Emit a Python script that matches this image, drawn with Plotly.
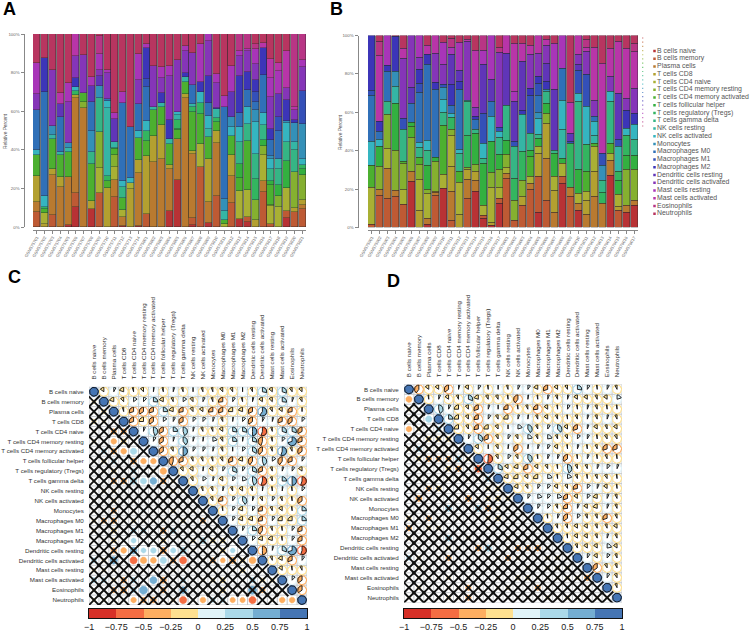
import math
import plotly.graph_objects as go

W, H = 750, 632
CELLS = ["B cells naive","B cells memory","Plasma cells","T cells CD8","T cells CD4 naive",
 "T cells CD4 memory resting","T cells CD4 memory activated","T cells follicular helper",
 "T cells regulatory (Tregs)","T cells gamma delta","NK cells resting","NK cells activated",
 "Monocytes","Macrophages M0","Macrophages M1","Macrophages M2","Dendritic cells resting",
 "Dendritic cells activated","Mast cells resting","Mast cells activated","Eosinophils","Neutrophils"]
PALETTE = ["#B83235","#BE5A34","#B97A30","#B3A030","#A9B034","#85B030","#4CB030","#33B040","#33B560",
 "#35B585","#35B5A5","#35B5C0","#3490B8","#3070B8","#3450B8","#3C35B8","#6035B8","#8535B8",
 "#A835B8","#B835A8","#B83585","#B83560"]
BINS = ["#D73027","#F46D43","#FDAE61","#FEE090","#E0F3F8","#ABD9E9","#74ADD1","#4575B4"]

# Panel A: each sample = (cell type index, cumulative top in percent)
A01=[(1,8),(2,13),(3,26.5),(6,37.5),(11,40),(13,60.5),(17,69),(18,85),(21,100)]
A02=[(3,1.5),(4,7),(6,9.5),(8,10.5),(11,16),(13,70),(15,87.5),(21,100)]
A03=[(1,6),(2,27),(3,30),(6,45.5),(10,47.5),(12,52.5),(17,81.5),(21,100)]
A04=[(2,20.5),(3,26),(6,37.5),(10,39),(13,57),(16,63.5),(19,69.5),(21,100)]
A05=[(0,1),(2,26),(6,39),(10,41),(12,43.5),(17,65),(18,74.5),(21,100)]
A06=[(0,10.5),(1,17.5),(2,67),(3,68.5),(8,70.5),(11,72.5),(15,77),(17,88.5),(19,100)]
A07=[(2,61.5),(5,65),(6,69.5),(17,89),(21,100)]
A08=[(0,9.5),(3,13.5),(6,32.5),(9,39),(12,50),(13,65),(16,73),(18,77.5),(21,100)]
A09=[(1,17.5),(4,30.5),(5,49),(9,67),(12,73),(16,78.5),(17,81.5),(18,89.5),(20,99),(21,100)]
A10=[(3,20),(6,24),(8,26.5),(10,61.5),(11,65.5),(13,66.5),(17,80),(18,81.5),(21,100)]
A11=[(1,15.5),(2,24.5),(4,31),(5,37.5),(6,40.5),(7,41),(10,44),(16,56),(18,59),(21,100)]
A12=[(0,0.5),(2,5),(4,9),(6,15),(9,20.5),(11,24),(13,64),(18,70),(21,100)]
A13=[(3,19.5),(4,23),(11,25.5),(13,52),(21,100)]
A14=[(0,0.3),(2,28),(3,34.5),(6,46),(11,49.5),(13,63.5),(17,76),(18,89.5),(21,100)]
A15=[(1,6.5),(3,37),(6,44.5),(8,49.5),(11,55),(13,72.5),(14,76.5),(15,93),(18,95),(21,100)]
A16=[(2,33.5),(3,47),(6,60.5),(10,62),(17,83.5),(21,100)]
A17=[(2,35),(3,53),(6,62),(10,64),(15,69.5),(17,77),(18,83),(21,100)]
A18=[(0,8.5),(2,30),(3,32),(6,43),(10,45.5),(15,55.5),(17,78.5),(18,83.5),(21,100)]
A19=[(0,24.5),(2,45.5),(6,50.5),(7,51),(8,55.5),(10,58),(11,59.5),(17,86.5),(21,100)]
A20=[(2,67),(3,69),(6,75),(10,77.5),(15,80),(17,91),(18,94),(21,100)]
A21=[(0,1),(1,4.5),(2,38),(3,39.5),(6,59.5),(8,62),(10,63.5),(13,73.5),(17,90),(21,100)]
A22=[(1,31),(4,43),(6,58.5),(8,64),(11,70),(15,75),(18,95),(21,100)]
A23=[(0,2),(2,13),(3,35),(6,46.5),(10,51),(11,57.5),(13,64),(15,78.5),(17,96.5),(18,100)]
A24=[(1,16),(2,43.5),(3,49.5),(6,54.5),(8,56.5),(10,61),(15,61.5),(17,74.5),(18,79.5),(21,100)]
A25=[(4,1.5),(6,3.5),(10,8.5),(12,14.5),(13,62),(18,68),(21,100)]
A26=[(1,12.5),(2,26.5),(3,37.5),(6,47),(11,52),(12,57),(16,70),(18,83.5),(21,100)]
A27=[(0,4),(4,18.5),(6,25.5),(7,32.5),(9,44),(11,52),(13,59),(15,78),(17,88.5),(18,91),(20,100)]
A28=[(0,2.5),(1,5),(4,19),(6,44.5),(9,53.5),(11,62),(13,71),(15,80.5),(17,91),(18,92),(20,100)]
A29=[(3,3.8),(5,14),(8,25),(9,38),(11,54.5),(12,60.5),(13,65),(14,70),(15,76),(17,84.5),(18,92),(20,95),(21,100)]
A30=[(1,18),(2,24),(4,37.5),(5,42),(7,45),(9,53),(11,59),(13,79),(15,93),(19,95.5),(21,100)]
A31=[(1,1.7),(4,10.7),(5,11.5),(6,22),(7,23.6),(9,30),(11,35),(12,37),(13,45),(15,51),(17,67.5),(18,77),(19,87),(21,100)]
A32=[(4,10.5),(5,16),(7,22),(9,30),(10,35),(13,49.5),(14,57),(16,69),(18,81),(19,85),(21,100)]
A33=[(0,4.5),(1,8.5),(4,20),(7,34),(9,44),(11,54),(12,55),(15,66),(17,72),(19,91),(21,100)]
A34=[(1,7.6),(3,10),(5,28.5),(9,40),(10,44),(12,54),(15,55.5),(17,60.5),(19,62),(20,100)]
A35=[(1,9.3),(2,11.5),(3,14),(5,27),(7,30),(8,32),(11,35),(12,53.5),(14,70.7),(17,83),(18,86.5),(20,100)]
BARS_A=[A01,A02,A03,A04,A05,A06,A07,A08,A09,A10,A11,A12,A13,A14,A15,A16,A17,A18,A19,A20,A21,A22,A23,A24,A25,A26,A27,A28,A29,A30,A31,A32,A33,A34,A35]

# Panel B
B01=[(1,1.5),(4,21),(6,32.5),(11,45),(13,68.5),(14,71.5),(15,100)]
B02=[(1,16.5),(2,20),(5,32),(7,42),(11,46),(13,50),(15,55),(19,89.5),(20,97),(21,100)]
B03=[(1,15),(2,30.5),(4,41),(5,59),(9,65.5),(13,81.5),(15,84.5),(18,100)]
B04=[(1,16),(2,19.5),(5,40),(7,64.5),(10,73.5),(12,81),(15,99.5),(21,100)]
B05=[(1,12),(4,20),(5,33.5),(6,34.5),(9,51),(14,57),(17,88),(19,93),(21,100)]
B06=[(0,24),(2,29),(5,47),(6,52.5),(7,54.5),(13,64.5),(16,73),(17,100)]
B07=[(3,9),(4,25),(5,33),(6,36.5),(9,41.5),(11,44.5),(13,70.5),(14,75),(15,82.5),(17,88.5),(18,100)]
B08=[(0,1.5),(2,4.5),(4,17.5),(5,20),(7,32.5),(9,40),(11,45.5),(13,85),(15,90),(19,95),(21,100)]
B09=[(1,16.5),(2,18),(3,19),(5,34.5),(7,36.5),(13,72),(15,75.5),(17,90.5),(19,100)]
B10=[(0,20.5),(4,27.5),(6,53),(9,60),(11,66.5),(12,73),(14,74.5),(17,85),(18,96.5),(21,100)]
B11=[(1,3.5),(2,18.5),(3,32),(4,48),(5,51),(8,57.5),(11,59.5),(13,63.5),(15,74.5),(16,90),(18,94),(20,98.5),(21,100)]
B12=[(3,7),(4,23.5),(6,29),(9,38.5),(11,40.5),(13,72),(15,76),(16,82),(18,96.5),(21,100)]
B13=[(1,15),(2,25),(3,30),(5,31.5),(8,48),(9,65.5),(11,66),(17,97),(19,98),(21,100)]
B14=[(0,19),(2,24.5),(3,29),(5,33),(7,49),(9,51),(13,56.5),(15,58),(17,62.5),(19,92),(21,100)]
B15=[(0,4.7),(1,6.5),(4,11.5),(7,33.5),(9,36),(11,44),(14,59.5),(16,85),(18,92),(20,100)]
B16=[(0,1.2),(3,2.5),(4,21),(5,28.5),(7,45),(11,58),(13,65.5),(16,77),(18,100)]
B17=[(0,12.5),(1,15),(4,21),(5,30),(7,38),(9,47),(11,50),(14,52),(17,91),(20,94),(21,100)]
B18=[(1,25.5),(2,28),(4,31),(5,38),(7,45.5),(9,63.5),(16,90.5),(19,100)]
B19=[(1,3.8),(5,14.3),(8,25.6),(9,42),(14,44.7),(16,65.6),(18,70.8),(19,96),(21,100)]
B20=[(1,11.6),(3,16),(5,24.7),(8,39.5),(10,58.6),(15,61.2),(16,86.4),(19,96),(21,100)]
B21=[(1,20),(2,23),(4,26.4),(6,37),(7,40),(9,49),(14,69),(15,72.5),(17,90),(19,94.6),(21,100)]
B22=[(0,8),(1,26.4),(3,38.6),(4,42),(7,46.4),(9,48.7),(11,57),(12,60),(13,69),(14,75),(15,78.6),(17,90.8),(19,100)]
B23=[(1,14),(2,36),(3,54),(5,59.5),(7,64.7),(9,70.8),(12,72),(15,76),(16,85.6),(17,95),(19,97.7),(21,100)]
B24=[(2,8),(3,19.5),(4,26.4),(7,38.6),(9,40.3),(16,71.7),(18,96),(21,100)]
B25=[(0,23),(1,26.4),(4,33.4),(7,36),(10,50.8),(11,66.4),(13,83),(18,100)]
B26=[(1,16),(2,21),(8,43.5),(14,44.7),(16,49),(19,65),(21,100)]
B27=[(0,9),(2,12.5),(4,17.7),(7,30),(9,65.6),(11,70),(14,81.7),(16,84.7),(17,90.3),(19,100)]
B28=[(2,7),(3,14),(4,18.6),(6,29),(8,43),(11,63),(14,79.5),(17,91.7),(19,94),(20,98),(21,100)]
B29=[(2,16),(3,29),(4,42),(6,44),(10,48),(11,55),(13,57.7),(17,66.4),(19,94),(21,100)]
B30=[(2,12.5),(8,18),(9,24.7),(12,32.5),(14,38.6),(19,85.6),(21,100)]
B31=[(0,27),(2,35),(4,38.6),(6,43.8),(9,65.6),(11,70.8),(17,78.6),(19,93.4),(21,100)]
B32=[(1,9),(3,10.8),(4,17),(7,24.7),(8,29),(10,42),(14,45.6),(16,70),(19,97),(21,100)]
B33=[(0,8),(2,11.6),(5,30),(7,37.7),(8,48),(11,51.6),(15,61),(17,67.3),(19,93.4),(21,100)]
B34=[(0,11.6),(2,14.3),(5,30.4),(7,37.7),(9,45.6),(11,53.4),(15,59.5),(17,72.5),(19,91.6),(20,95.6),(21,100)]
BARS_B=[B01,B02,B03,B04,B05,B06,B07,B08,B09,B10,B11,B12,B13,B14,B15,B16,B17,B18,B19,B20,B21,B22,B23,B24,B25,B26,B27,B28,B29,B30,B31,B32,B33,B34]

SAMPLES_A=["GSM5757%02d"%n for n in range(1,15)]+["GSM5758%02d"%n for n in range(1,22)]
SAMPLES_B=["GSM5759%02d"%n for n in range(1,18)]+["GSM5760%02d"%n for n in range(1,18)]
YTICKS=[0,20,40,60,80,100]

# Panel C: upper triangle, one list per row
C00=[-.15,.08,-.2,-.05,-.12,.03,-.05,.05,-.06,.02,-.07,-.06,-.12,-.1,.02,-.08,.28,-.14,.3,-.1,-.13]
C01=[-.2,-.12,.15,.12,.26,-.18,-.08,.15,-.12,.08,-.06,-.27,.1,-.05,.05,-.15,-.13,.27,.06,-.1]
C02=[-.05,-.3,-.34,-.3,.25,-.2,-.28,-.12,-.15,-.27,-.3,-.25,-.2,-.32,.6,-.1,-.15,-.28,-.02]
C03=[-.3,-.25,-.35,.15,.08,-.32,.12,.12,.06,-.08,.03,.12,-.35,.08,.05,-.3,-.35,.12]
C04=[.07,.45,-.33,.25,.45,.05,-.08,-.07,-.15,.27,.28,.5,-.55,-.06,.3,.3,-.33]
C05=[.1,-.34,.05,.4,.05,.03,.2,-.1,.25,.03,.28,-.45,-.05,.12,.7,-.3]
C06=[-.34,-.1,.5,.1,.1,.05,-.08,.02,.12,.33,-.38,-.07,.55,-.08,-.35]
C07=[-.45,-.3,-.08,-.08,-.06,-.1,-.3,-.2,-.4,.45,.15,-.4,-.3,.1]
C08=[-.12,-.15,.03,-.15,.1,.3,.1,.3,-.3,-.08,.06,.1,-.15]
C09=[-.1,.15,.05,-.15,.12,.2,.45,-.55,-.07,.25,.5,-.55]
C10=[-.07,-.08,.05,-.08,-.15,-.08,.03,-.03,.03,-.03,.12]
C11=[-.1,-.27,.1,.4,.06,-.1,.1,-.08,-.03,-.35]
C12=[-.03,.1,-.2,.1,-.27,-.08,-.15,-.03,.25]
C13=[.1,-.2,-.2,-.27,.1,-.25,-.25,.25]
C14=[.08,.25,-.4,-.07,-.03,.1,-.3]
C15=[.12,-.2,-.2,-.03,.1,-.3]
C16=[-.5,.05,.3,.7,-.55]
C17=[-.08,-.18,-.3,.1]
C18=[-.15,-.03,-.08]
C19=[.12,-.35]
C20=[-.35]
ROWS_C=[C00,C01,C02,C03,C04,C05,C06,C07,C08,C09,C10,C11,C12,C13,C14,C15,C16,C17,C18,C19,C20]
# lower-triangle cells without a cross: row -> columns
SIG_C={5:[2],6:[3,4],7:[5,6],8:[7],9:[5,6],15:[4],16:[3,5,6,8,14],17:[4,5,6,7,9,13,16],19:[6],20:[5],21:[4,9,11,14,15,16,19,20]}

# Panel D
D00=[-.4,-.15,-.15,-.35,.05,-.15,.1,-.03,.02,-.06,.08,.1,-.18,-.3,-.15,-.1,.27,.1,-.03,.08,-.08]
D01=[-.03,.07,-.15,-.08,.3,-.2,-.1,-.1,-.03,-.4,.03,-.03,.06,-.08,.06,-.15,-.15,-.08,-.15,.2]
D02=[.45,.08,-.25,-.12,-.3,.06,.02,-.27,-.03,-.08,-.27,-.15,-.03,.1,-.03,.06,-.08,-.03,-.03]
D03=[.25,-.25,-.12,-.27,.1,-.1,-.25,.06,.03,-.08,-.15,-.08,-.03,-.08,.06,-.08,.06,-.08]
D04=[-.25,-.1,-.27,-.25,-.12,.02,.2,.4,-.08,.1,.38,-.15,-.3,.06,-.15,-.08,-.15]
D05=[.08,.35,-.3,-.1,.1,-.1,.22,-.08,.22,-.08,-.1,.12,.08,-.03,-.1,-.1]
D06=[-.15,.02,-.1,.03,-.35,.03,.06,.1,-.15,-.03,.06,-.03,-.08,-.3,-.3]
D07=[-.52,-.1,.12,-.1,.4,-.03,.07,.07,-.35,-.03,.07,-.03,-.08,-.03]
D08=[.3,-.15,-.2,-.3,-.15,-.1,-.03,.45,-.08,-.08,.07,.12,.07]
D09=[-.2,-.25,-.15,-.25,.22,-.03,.2,-.08,-.03,-.08,-.1,-.03]
D10=[-.18,-.1,.1,.12,-.15,-.1,-.28,.12,.07,-.15,-.03]
D11=[.1,.2,.12,.2,-.3,-.15,.12,-.2,.07,-.08]
D12=[.1,.12,-.08,-.27,.07,-.15,-.2,.07,-.08]
D13=[-.03,.07,-.35,.12,-.08,-.08,-.3,-.08]
D14=[-.08,-.08,-.15,-.15,-.08,-.08,-.15]
D15=[-.03,-.15,-.15,-.08,.06,-.08]
D16=[-.08,-.15,-.15,.22,-.15]
D17=[.1,-.15,.12,-.08]
D18=[-.35,-.1,-.08]
D19=[.1,-.1]
D20=[-.08]
ROWS_D=[D00,D01,D02,D03,D04,D05,D06,D07,D08,D09,D10,D11,D12,D13,D14,D15,D16,D17,D18,D19,D20]
SIG_D={1:[0],3:[2],4:[0]}

CB_TICKS=[-1,-.75,-.5,-.25,0,.25,.5,.75,1]
CB_TEXT=["\u22121","\u22120.75","\u22120.5","\u22120.25","0","0.25","0.5","0.75","1"]

FONT="Liberation Sans"
fig=go.Figure()
layout={}
shapes=[]
def dx(a,b): return [a/W,b/W]
def dy(top,bot): return [1-bot/H,1-top/H]

def stacked(bars,names,xid,yid,x0,x1,top,bot,axis_px,line_py):
    for k,cell in enumerate(CELLS):
        ys=[];
        for bar in bars:
            prev=0;v=None
            for idx,t in bar:
                if idx==k: v=t-prev
                prev=t
            ys.append(v)
        fig.add_trace(go.Bar(x=list(range(len(bars))),y=ys,marker=dict(color=PALETTE[k],line=dict(color="rgba(40,40,40,.75)",width=.5)),
            width=.88,xaxis="x"+str(xid),yaxis="y"+str(yid),showlegend=False,hoverinfo="skip"))
    shapes.append(dict(type="rect",xref="x%d"%xid,yref="y%d"%yid,x0=-.5,x1=len(bars)-.5,y0=0,y1=100,fillcolor="#a4a4a4",line=dict(width=0),layer="below"))
    layout["xaxis%d"%xid]=dict(domain=dx(x0,x1),range=[-.5,len(bars)-.5],anchor="free",position=1-line_py/H,automargin=False,
        tickvals=list(range(len(bars))),ticktext=names,tickangle=-60,tickfont=dict(size=4.2,color="#666",family=FONT),
        showline=True,linecolor="#888",linewidth=1,ticks="outside",ticklen=3,tickcolor="#888",showgrid=False,zeroline=False)
    layout["yaxis%d"%yid]=dict(domain=dy(top,bot),range=[0,100],anchor="free",position=axis_px/W,automargin=False,
        tickvals=YTICKS,ticktext=[f"{t}%" for t in YTICKS],tickfont=dict(size=4.4,color="#666",family=FONT),
        showline=True,linecolor="#888",linewidth=1,ticks="outside",ticklen=3,tickcolor="#888",showgrid=False,zeroline=False)

stacked(BARS_A,SAMPLES_A,1,1,33,306,34,227,23.5,229.5)
stacked(BARS_B,SAMPLES_B,2,2,368,638,35.5,227.5,357.5,229.5)

def bin_color(r):
    return BINS[min(7,int(math.floor((r+1)/.25)))]

def circle(cx,cy,rad,n=28):
    xs=[cx+rad*math.cos(2*math.pi*i/n) for i in range(n+1)]
    ys=[cy+rad*math.sin(2*math.pi*i/n) for i in range(n+1)]
    return xs+[None],ys+[None]

def wedge(cx,cy,rad,r):
    # positive clockwise from 12 o'clock, negative anticlockwise; the strongest negatives sit on the right
    turn=abs(r) if r<=-.5 else r
    n=max(3,int(abs(r)*40))
    xs=[cx];ys=[cy]
    for i in range(n+1):
        a=2*math.pi*turn*i/n
        xs.append(cx+rad*math.sin(a)); ys.append(cy-rad*math.cos(a))
    xs.append(cx);ys.append(cy)
    return xs+[None],ys+[None]

def corr(rows,sig,xid,yid,x0,x1,top,bot):
    N=22
    xa="x"+str(xid);ya="y"+str(yid)
    gx=[];gy=[]
    for i in range(N+1):
        gx+=[i,i,None,0,N,None]; gy+=[0,N,None,i,i,None]
    fig.add_trace(go.Scatter(x=gx,y=gy,mode="lines",line=dict(color="#c4c8cc",width=1),xaxis=xa,yaxis=ya,hoverinfo="skip",showlegend=False))
    M=[[1.0 if a==b else 0.0 for b in range(N)] for a in range(N)]
    for a,row in enumerate(rows):
        for off,v in enumerate(row):
            b=a+1+off
            M[a][b]=v;M[b][a]=v
    ring={c:([],[]) for c in BINS}; wed={c:([],[]) for c in BINS}; disc={c:([],[]) for c in BINS}
    cxx=[];cxy=[]
    h=.62
    for a in range(N):
        for b in range(N):
            v=M[a][b];c=bin_color(v);cx=b+.5;cy=a+.5
            if b>=a:
                p=circle(cx,cy,.46);ring[c][0].extend(p[0]);ring[c][1].extend(p[1])
                if a==b:
                    p=circle(cx,cy,.44)
                else:
                    p=wedge(cx,cy,.44,v)
                wed[c][0].extend(p[0]);wed[c][1].extend(p[1])
            else:
                p=circle(cx,cy,min(.46,.5*math.sqrt(abs(v))));disc[c][0].extend(p[0]);disc[c][1].extend(p[1])
                if b not in sig.get(a,[]):
                    cxx+=[cx-h,cx+h,None,cx-h,cx+h,None];cxy+=[cy-h,cy+h,None,cy+h,cy-h,None]
    for c in BINS:
        if ring[c][0]:
            fig.add_trace(go.Scatter(x=ring[c][0],y=ring[c][1],mode="lines",fill="toself",fillcolor="white",line=dict(color=c,width=1.1),xaxis=xa,yaxis=ya,hoverinfo="skip",showlegend=False))
    for c in BINS:
        if wed[c][0]:
            fig.add_trace(go.Scatter(x=wed[c][0],y=wed[c][1],mode="lines",fill="toself",fillcolor=c,line=dict(color="#111",width=.9),xaxis=xa,yaxis=ya,hoverinfo="skip",showlegend=False))
        if disc[c][0]:
            fig.add_trace(go.Scatter(x=disc[c][0],y=disc[c][1],mode="lines",fill="toself",fillcolor=c,line=dict(color=c,width=.5),xaxis=xa,yaxis=ya,hoverinfo="skip",showlegend=False))
    fig.add_trace(go.Scatter(x=cxx,y=cxy,mode="lines",line=dict(color="#111",width=1.9),xaxis=xa,yaxis=ya,hoverinfo="skip",showlegend=False,cliponaxis=False))
    tv=[i+.5 for i in range(N)]
    tf=dict(size=6.2,color="#333",family=FONT)
    layout["xaxis%d"%xid]=dict(domain=dx(x0,x1),range=[0,N],anchor="y%d"%yid,side="top",tickvals=tv,ticktext=CELLS,tickangle=-90,tickfont=tf,automargin=False,
        ticks="outside",ticklen=5,tickcolor="rgba(0,0,0,0)",showgrid=False,zeroline=False,showline=False)
    layout["yaxis%d"%yid]=dict(domain=dy(top,bot),range=[N,0],anchor="x%d"%xid,tickvals=tv,ticktext=CELLS,tickfont=tf,automargin=False,
        ticks="outside",ticklen=3,tickcolor="rgba(0,0,0,0)",showgrid=False,zeroline=False,showline=False)

corr(ROWS_C,SIG_C,3,3,89,307,386.8,605)
corr(ROWS_D,SIG_D,4,4,404,622,384.4,602.6)

def colorbar(xid,yid,x0,x1,top,bot):
    for i,c in enumerate(BINS):
        fig.add_trace(go.Bar(x=[.25],y=[0],base=[CB_TICKS[i]],orientation="h",width=1,marker=dict(color=c,line=dict(width=0)),
            xaxis="x"+str(xid),yaxis="y"+str(yid),showlegend=False,hoverinfo="skip"))
    layout["xaxis%d"%xid]=dict(domain=dx(x0,x1),range=[-1,1],anchor="y%d"%yid,tickvals=CB_TICKS,ticktext=CB_TEXT,tickangle=0,automargin=False,
        tickfont=dict(size=9,color="#222",family=FONT),ticks="",showline=True,mirror=True,linecolor="#111",linewidth=1,showgrid=False,zeroline=False)
    layout["yaxis%d"%yid]=dict(domain=dy(top,bot),range=[-.5,.5],anchor="x%d"%xid,showticklabels=False,ticks="",automargin=False,showline=True,mirror=True,linecolor="#111",linewidth=1,showgrid=False,zeroline=False)

colorbar(5,5,89,307,609,618)
colorbar(6,6,404,622,608.5,618)

# legend panel
lg_top,lg_bot=30,225
y_at=lambda py:(py-51)/7.75
layout["xaxis7"]=dict(domain=dx(640,750),range=[640,750],visible=False,anchor="y7",automargin=False)
layout["yaxis7"]=dict(domain=dy(lg_top,lg_bot),range=[y_at(lg_bot),y_at(lg_top)],visible=False,anchor="x7",automargin=False)
fig.add_trace(go.Scatter(x=[654.5]*22,y=list(range(22)),mode="markers+text",text=CELLS,textposition="middle right",
    textfont=dict(size=6.9,color="#555",family=FONT),marker=dict(symbol="square",size=2.5,color=PALETTE),
    xaxis="x7",yaxis="y7",showlegend=False,hoverinfo="skip",cliponaxis=False))
dot_y=[y_at(38+i*(126-38)/21) for i in range(22)]
fig.add_trace(go.Scatter(x=[642.7]*22,y=dot_y,mode="markers",marker=dict(symbol="square",size=1.2,color=PALETTE,opacity=.7),
    xaxis="x7",yaxis="y7",showlegend=False,hoverinfo="skip"))

def note(text,px,py,size=4.8,bold=False,angle=0,color="#555"):
    return dict(text=f"<b>{text}</b>" if bold else text,x=px/W,y=1-py/H,xref="paper",yref="paper",showarrow=False,
        font=dict(size=size,family=FONT,color=color),textangle=angle,xanchor="center",yanchor="middle")
anns=[note("A",9,9,18,True,color="#000"),note("B",336,9,18,True,color="#000"),note("C",14,277,18,True,color="#000"),note("D",393,281,18,True,color="#000"),
      note("Relative Percent",5,131,4.8,angle=-90),note("Relative Percent",340,132,4.8,angle=-90)]

fig.update_layout(template="none",width=W,height=H,autosize=False,margin=dict(l=0,r=0,t=0,b=0),paper_bgcolor="white",plot_bgcolor="rgba(0,0,0,0)",
    barmode="stack",bargap=0,showlegend=False,annotations=anns,shapes=shapes,**layout)
fig.write_html("out.html",config={"displayModeBar":False},post_script="document.body.style.margin='0';document.documentElement.style.overflow='hidden';")
